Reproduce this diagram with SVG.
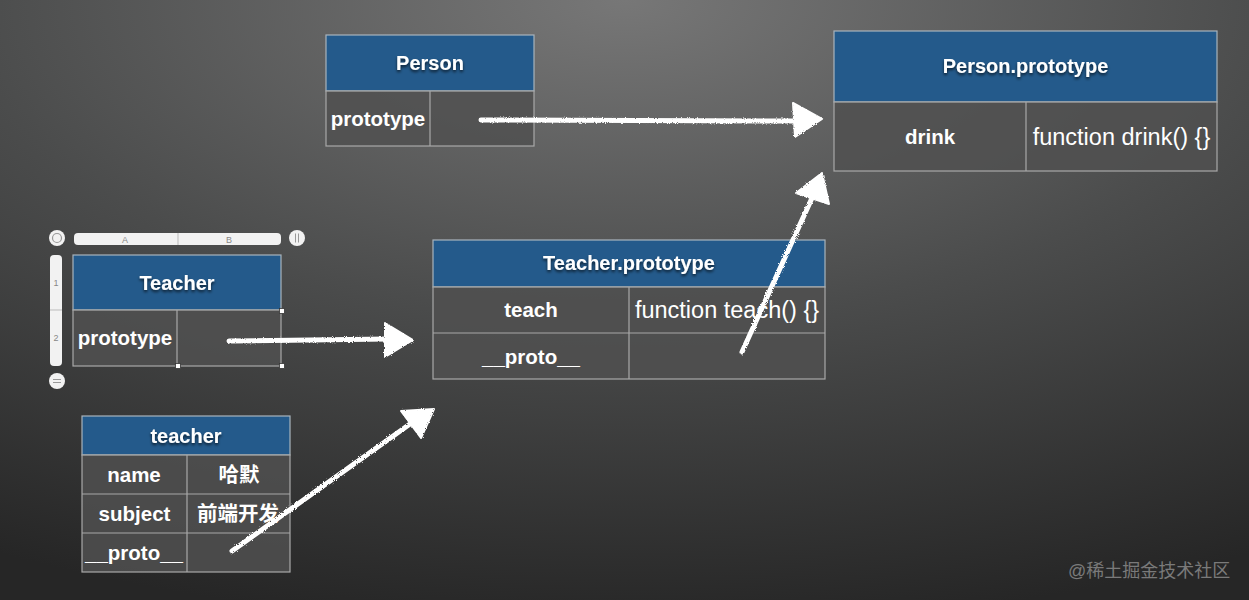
<svg xmlns="http://www.w3.org/2000/svg" width="1249" height="600" viewBox="0 0 1249 600">
  <defs>
    <radialGradient id="bg" cx="0.5" cy="0" r="1.05">
      <stop offset="0" stop-color="#777777"/>
      <stop offset="0.5" stop-color="#4b4c4c"/>
      <stop offset="1" stop-color="#262626"/>
    </radialGradient>
    <filter id="shadow" x="-10%" y="-30%" width="120%" height="160%">
      <feDropShadow dx="0" dy="2" stdDeviation="1.5" flood-color="#000" flood-opacity="0.7"/>
    </filter>
    <filter id="chalk" x="-10%" y="-10%" width="120%" height="120%">
      <feTurbulence type="fractalNoise" baseFrequency="0.9" numOctaves="2" result="n"/>
      <feDisplacementMap in="SourceGraphic" in2="n" scale="3"/>
    </filter>
    <style>
      .hdr { fill: #245a8b; stroke: #a9b4bd; stroke-width: 1.2; }
      .cell { fill: #505050; fill-opacity: 0.85; stroke: #a8a8a8; stroke-width: 1.2; }
      .ln { stroke: #a8a8a8; stroke-width: 1.2; }
      text { font-family: "Liberation Sans", "Noto Sans CJK SC", Arial, sans-serif; fill: #ffffff; text-anchor: middle; }
      .h { font-size: 20px; font-weight: bold; filter: url(#shadow); }
      .b { font-size: 20.5px; font-weight: bold; }
      .r { font-size: 23.5px; }
      .wm { font-size: 18px; fill: #7a7a7a; text-anchor: start; font-family: "Liberation Sans", "Noto Sans CJK SC", sans-serif; }
      .chalk { stroke: #ffffff; stroke-width: 5; stroke-linecap: round; fill: none; }
      .head { fill: #ffffff; stroke: #ffffff; stroke-width: 2; stroke-linejoin: round; }
      .ui { fill: #f2f2f2; }
      .uit { font-size: 9px; fill: #888888; font-weight: normal; }
      .hd { fill: #ffffff; stroke: #333; stroke-width: 0.8; }
    </style>
  </defs>

  <rect x="0" y="0" width="1249" height="600" fill="url(#bg)"/>

  <g id="person">
    <rect class="hdr" x="326" y="35" width="208" height="56"/>
    <rect class="cell" x="326" y="91" width="208" height="55"/>
    <line class="ln" x1="430" y1="91" x2="430" y2="146"/>
    <text class="h" x="430" y="70">Person</text>
    <text class="b" x="378" y="126">prototype</text>
  </g>

  <g id="person-prototype">
    <rect class="hdr" x="834" y="31" width="383" height="71"/>
    <rect class="cell" x="834" y="102" width="383" height="69"/>
    <line class="ln" x1="1026" y1="102" x2="1026" y2="171"/>
    <text class="h" x="1025.5" y="73">Person.prototype</text>
    <text class="b" x="930" y="144">drink</text>
    <text class="r" x="1121.5" y="145">function drink() {}</text>
  </g>

  <g id="teacher-prototype">
    <rect class="hdr" x="433" y="240" width="392" height="47"/>
    <rect class="cell" x="433" y="287" width="392" height="92"/>
    <line class="ln" x1="433" y1="333" x2="825" y2="333"/>
    <line class="ln" x1="629" y1="287" x2="629" y2="379"/>
    <text class="h" x="629" y="270">Teacher.prototype</text>
    <text class="b" x="531" y="317">teach</text>
    <text class="r" x="727" y="318">function teach() {}</text>
    <text class="b" x="531" y="364">__proto__</text>
  </g>

  <g id="teacher-constructor">
    <rect class="hdr" x="73" y="255" width="208" height="55"/>
    <rect class="cell" x="73" y="310" width="208" height="56"/>
    <line class="ln" x1="177" y1="310" x2="177" y2="366"/>
    <text class="h" x="177" y="290">Teacher</text>
    <text class="b" x="125" y="345">prototype</text>
    <circle class="ui" cx="57" cy="238" r="8"/>
    <circle cx="57" cy="238" r="4.5" fill="none" stroke="#999" stroke-width="1.2"/>
    <rect class="ui" x="74" y="233" width="207" height="12" rx="4"/>
    <line x1="178" y1="233" x2="178" y2="245" stroke="#bbb" stroke-width="1"/>
    <text class="uit" x="125" y="242.5">A</text>
    <text class="uit" x="229" y="242.5">B</text>
    <circle class="ui" cx="297" cy="238" r="8"/>
    <line x1="295.5" y1="233.5" x2="295.5" y2="242.5" stroke="#999" stroke-width="1"/>
    <line x1="298.5" y1="233.5" x2="298.5" y2="242.5" stroke="#999" stroke-width="1"/>
    <rect class="ui" x="50" y="255" width="12" height="111" rx="4"/>
    <line x1="50" y1="310" x2="62" y2="310" stroke="#bbb" stroke-width="1"/>
    <text class="uit" x="56" y="286">1</text>
    <text class="uit" x="56" y="341">2</text>
    <circle class="ui" cx="57" cy="381" r="8"/>
    <line x1="53" y1="379.5" x2="61" y2="379.5" stroke="#999" stroke-width="1"/>
    <line x1="53" y1="382.5" x2="61" y2="382.5" stroke="#999" stroke-width="1"/>
    <rect class="hd" x="279.5" y="308.5" width="5" height="5"/>
    <rect class="hd" x="175.5" y="363.5" width="5" height="5"/>
    <rect class="hd" x="279.5" y="363.5" width="5" height="5"/>
  </g>

  <g id="teacher-instance">
    <rect class="hdr" x="82" y="416" width="208" height="39"/>
    <rect class="cell" x="82" y="455" width="208" height="117"/>
    <line class="ln" x1="82" y1="494" x2="290" y2="494"/>
    <line class="ln" x1="82" y1="533" x2="290" y2="533"/>
    <line class="ln" x1="187" y1="455" x2="187" y2="572"/>
    <text class="h" x="186" y="443">teacher</text>
    <text class="b" x="134" y="482">name</text>
    <text class="b" x="239" y="482">哈默</text>
    <text class="b" x="134.5" y="521">subject</text>
    <text class="b" x="238" y="521">前端开发</text>
    <text class="b" x="134" y="560">__proto__</text>
  </g>

  <g id="connectors" filter="url(#chalk)">
    <path class="chalk" d="M481,120 L797,121"/>
    <polygon class="head" points="793,103 822,119 795,137"/>
    <path class="chalk" d="M229,341 L388,339"/>
    <polygon class="head" points="385,323 413,340 385,357"/>
    <path class="chalk" d="M232,551 L410,424"/>
    <polygon class="head" points="401,411 434,409 421,438"/>
    <path class="chalk" d="M742,352 L812,198"/>
    <polygon class="head" points="822,173 796,193 829,204"/>
  </g>

  <text class="wm" x="1068" y="577">@稀土掘金技术社区</text>
</svg>
